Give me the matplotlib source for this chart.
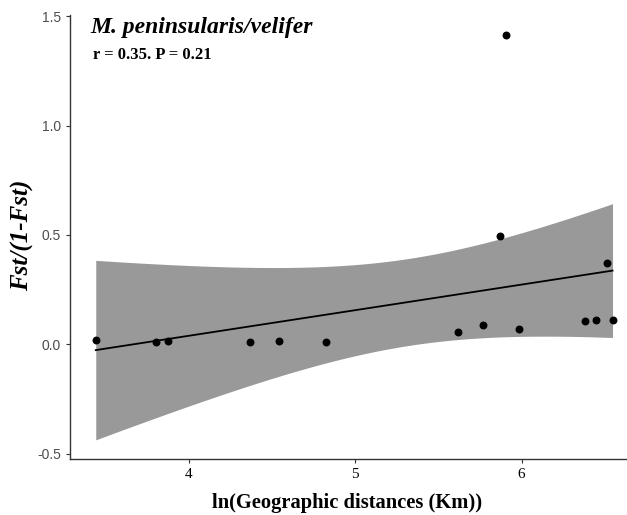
import numpy as np
import matplotlib.pyplot as plt

# ln geographic distance vs Fst/(1-Fst)
ln_dist = [3.44, 3.805, 3.873, 4.366, 4.542, 4.823, 5.62, 5.767, 5.87,
           5.905, 5.984, 6.38, 6.444, 6.51, 6.546]
fst_lin = [0.018, 0.010, 0.014, 0.010, 0.014, 0.010, 0.058, 0.090, 0.495,
           1.416, 0.070, 0.105, 0.113, 0.373, 0.113]
xticks = [4, 5, 6]
yticks = [-0.5, 0.0, 0.5, 1.0, 1.5]
ytick_labels = ["-0.5", "0.0", "0.5", "1.0", "1.5"]

x = np.array(ln_dist)
y = np.array(fst_lin)

# linear fit with 95% confidence band (like geom_smooth(method = lm))
slope, icpt = np.polyfit(x, y, 1)
n = len(x)
resid = y - (slope * x + icpt)
s = np.sqrt(np.sum(resid ** 2) / (n - 2))
tcrit = 2.160  # t(0.975, df=13)
xs = np.linspace(x.min(), x.max(), 80)
ys = slope * xs + icpt
se = s * np.sqrt(1 / n + (xs - x.mean()) ** 2 / np.sum((x - x.mean()) ** 2))

fig = plt.figure(figsize=(6.27, 5.15), dpi=100)
ax = fig.add_axes([0.1116, 0.1087, 0.8884, 0.863])

ax.fill_between(xs, ys - tcrit * se, ys + tcrit * se, color="#999999", lw=0)
ax.plot(xs, ys, color="black", lw=1.3)
ax.scatter(x, y, s=22, color="black", zorder=3)

ax.set_xlim(3.285, 6.633)
ax.set_ylim(-0.525, 1.508)
ax.set_xticks(xticks)
ax.set_xticklabels([str(t) for t in xticks], family="Liberation Serif", fontsize=11)
ax.set_yticks(yticks)
ax.set_yticklabels(ytick_labels, family="Liberation Sans", fontsize=10, color="#4D4D4D")
ax.tick_params(length=3, width=0.8, color="#333333")

for side in ["top", "right"]:
    ax.spines[side].set_visible(False)
for side in ["left", "bottom"]:
    ax.spines[side].set_linewidth(1.0)
    ax.spines[side].set_color("#333333")

ax.set_xlabel("ln(Geographic distances (Km))", family="Liberation Serif",
              fontweight="bold", fontsize=14.8, va="center")
ax.xaxis.set_label_coords(0.498, -0.098)
ax.set_ylabel("Fst/(1-Fst)", family="Liberation Serif", fontweight="bold",
              style="italic", fontsize=18, va="center")
ax.yaxis.set_label_coords(-0.085, 0.503)

fig.text(90 / 627, 1 - 33 / 515, "M. peninsularis/velifer", family="Liberation Serif",
         fontweight="bold", style="italic", fontsize=17, va="baseline")
fig.text(93 / 627, 1 - 59 / 515, "r = 0.35. P = 0.21", family="Liberation Serif",
         fontweight="bold", fontsize=12, va="baseline")

fig.savefig("out.png", dpi=100)
